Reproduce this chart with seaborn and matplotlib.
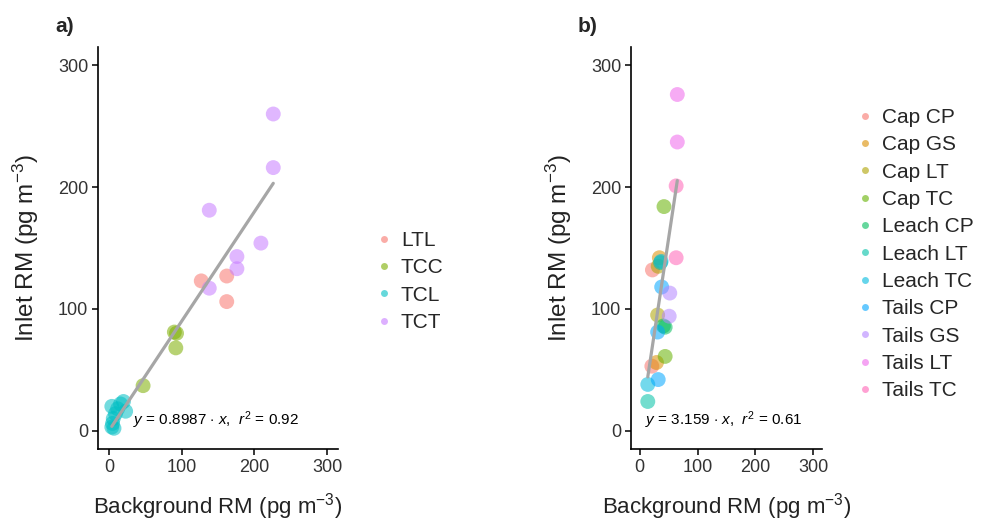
import numpy as np
import pandas as pd
import matplotlib
matplotlib.use("Agg")
import matplotlib.pyplot as plt
import seaborn as sns
from matplotlib.lines import Line2D

sns.set_style("ticks")
plt.rcParams['font.family'] = ['Liberation Sans', 'DejaVu Sans']
plt.rcParams['mathtext.fontset'] = 'custom'
plt.rcParams['mathtext.rm'] = 'Liberation Sans'
plt.rcParams['mathtext.it'] = 'Liberation Sans:italic'
plt.rcParams['mathtext.bf'] = 'Liberation Sans:bold'

# ---------------- Panel a data ----------------
a_groups = ["LTL", "TCC", "TCL", "TCT"]
a_colors = ["#F8766D", "#7CAE00", "#00BFC4", "#C77CFF"]
a_group = (["LTL"] * 3 + ["TCC"] * 4 + ["TCL"] * 10 + ["TCT"] * 7)
a_background = [127, 162, 162,
                90, 93, 92, 47,
                4, 5, 6, 4, 9, 16, 20, 23, 12, 7,
                226, 226, 138, 209, 176, 176, 138]
a_inlet = [123, 127, 106,
           81, 80, 68, 37,
           3, 6, 10, 20, 14, 22, 24, 16, 18, 2,
           260, 216, 181, 154, 143, 133, 117]
a_slope = 0.8987
a_r2 = 0.92

# ---------------- Panel b data ----------------
b_groups = ["Cap CP", "Cap GS", "Cap LT", "Cap TC", "Leach CP", "Leach LT",
            "Leach TC", "Tails CP", "Tails GS", "Tails LT", "Tails TC"]
b_colors = ["#F8766D", "#DB8E00", "#AEA200", "#64B200", "#00BD5C", "#00C1A7",
            "#00BADE", "#00A6FF", "#B385FF", "#EF67EB", "#FF63B6"]
b_group = (["Cap CP"] * 2 + ["Cap GS"] * 2 + ["Cap LT"] * 2 + ["Cap TC"] * 2 +
           ["Leach CP"] * 2 + ["Leach LT"] * 2 + ["Leach TC"] * 2 +
           ["Tails CP"] * 3 + ["Tails GS"] * 2 + ["Tails LT"] * 2 + ["Tails TC"] * 2)
b_background = [22, 21,
                34, 29,
                31, 32,
                42, 44,
                44, 41,
                14, 36,
                37, 14,
                38, 31, 32,
                52, 51,
                65, 65,
                63, 63]
b_inlet = [132, 53,
           142, 56,
           95, 135,
           184, 61,
           85, 86,
           24, 138,
           139, 38,
           118, 81, 42,
           113, 94,
           276, 237,
           201, 142]
b_slope = 3.159
b_r2 = 0.61

df_a = pd.DataFrame({"Background": a_background, "Inlet": a_inlet, "Group": a_group})
df_b = pd.DataFrame({"Background": b_background, "Inlet": b_inlet, "Group": b_group})

W, H = 982, 521
fig = plt.figure(figsize=(W / 100, H / 100), dpi=100)

def px_axes(x0, x1, y0, y1):
    return fig.add_axes([x0 / W, 1 - y1 / H, (x1 - x0) / W, (y1 - y0) / H])

ax_a = px_axes(98, 338, 47, 449)
ax_b = px_axes(631, 822, 47, 449)

def draw(ax, df, groups, colors, slope, r2, txt_x):
    pal = dict(zip(groups, colors))
    sns.scatterplot(data=df, x="Background", y="Inlet", hue="Group",
                    hue_order=groups, palette=pal, s=115, alpha=0.55,
                    edgecolor="none", legend=False, ax=ax, zorder=2)
    xs = np.array([df["Background"].min(), df["Background"].max()])
    line_df = pd.DataFrame({"x": xs, "y": slope * xs})
    sns.lineplot(data=line_df, x="x", y="y", color="#A6A6A6", lw=2.3,
                 ax=ax, zorder=3)
    ax.set_xlim(-15, 315)
    ax.set_ylim(-15, 315)
    ax.set_xticks([0, 100, 200, 300])
    ax.set_yticks([0, 100, 200, 300])
    sns.despine(ax=ax)
    for s in ["left", "bottom"]:
        ax.spines[s].set_color("black")
        ax.spines[s].set_linewidth(1.2)
    ax.tick_params(axis="both", length=4, width=1.1, color="black",
                   labelsize=13, labelcolor="#333333", pad=3)
    ax.set_xlabel("Background RM (pg m$^{-3}$)", fontsize=16, color="#222222", labelpad=11)
    ax.set_ylabel("Inlet RM (pg m$^{-3}$)", fontsize=17.5, color="#222222", labelpad=12)
    ax.text(txt_x, 9, r"$y$ = %s $\cdot$ $x$,  $r^2$ = %s" % (slope, r2),
            fontsize=11, ha="left", va="center", color="black", zorder=4)
    handles = [Line2D([0], [0], marker="o", linestyle="none", markersize=5,
                      markerfacecolor=c, markeredgecolor="none", alpha=0.6)
               for c in colors]
    return handles

h_a = draw(ax_a, df_a, a_groups, a_colors, a_slope, a_r2, 33)
h_b = draw(ax_b, df_b, b_groups, b_colors, b_slope, b_r2, 9)

leg_kw = dict(loc="upper left", frameon=False, fontsize=15, handlelength=0.6,
              handletextpad=0.5, labelspacing=0.4, borderpad=0, borderaxespad=0)
fig.legend(h_a, a_groups, bbox_to_anchor=(378 / W, 1 - 231 / H), **leg_kw)
fig.legend(h_b, b_groups, bbox_to_anchor=(859 / W, 1 - 108 / H), **leg_kw)

fig.text(55 / W, 1 - 27 / H, "a)", fontsize=15, fontweight="bold", va="center", ha="left")
fig.text(578 / W, 1 - 27 / H, "b)", fontsize=15, fontweight="bold", va="center", ha="left")

fig.savefig("out.png", dpi=100, facecolor="white")
